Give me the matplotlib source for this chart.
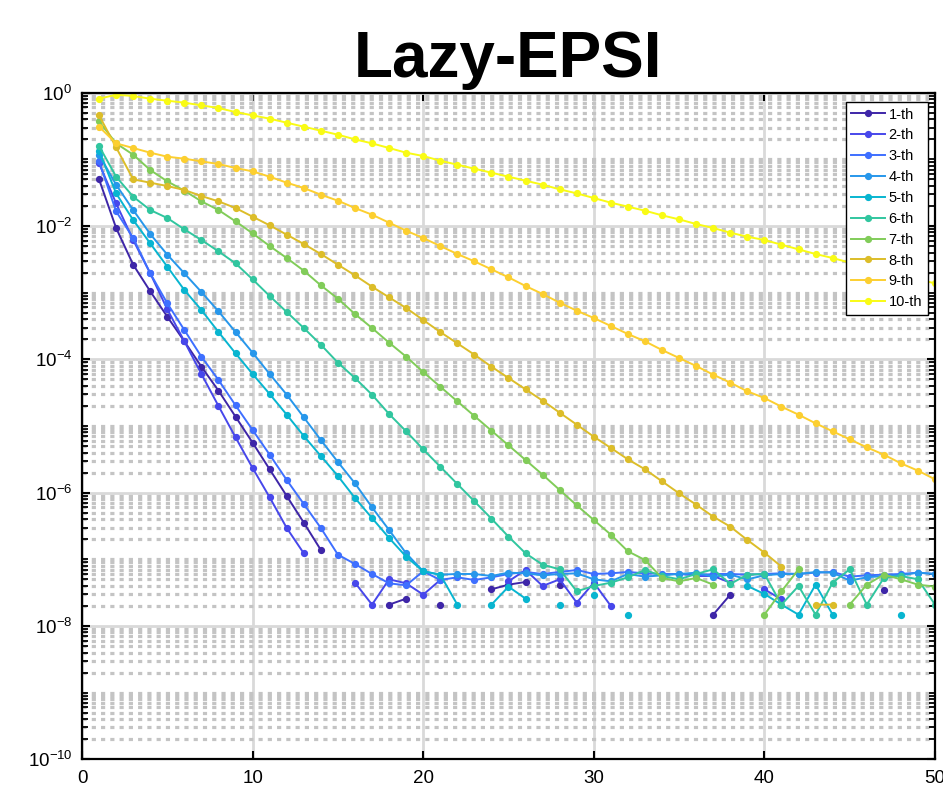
import numpy as np
import matplotlib
matplotlib.use("Agg")
import matplotlib.pyplot as plt
from matplotlib.ticker import LogLocator, FixedLocator, FuncFormatter, NullLocator, NullFormatter

plt.rcParams['font.family'] = ['Liberation Sans', 'DejaVu Sans']
plt.rcParams['mathtext.fontset'] = 'custom'
plt.rcParams['mathtext.rm'] = 'Liberation Sans'
plt.rcParams['mathtext.it'] = 'Liberation Sans:italic'
plt.rcParams['mathtext.bf'] = 'Liberation Sans:bold'

nan = np.nan

# iteration index
iters = np.arange(1, 51)

# log10 of the error for each eigenpair (NaN = not plotted)
log_err_1 = [-1.30, -2.03, -2.58, -2.98, -3.36, -3.73, -4.11, -4.47, -4.86, -5.25,
             -5.65, -6.05, -6.45, -6.86, nan, nan, nan, -7.68, -7.59, nan,
             -7.68, nan, nan, -7.45, -7.38, -7.34, nan, -7.38, nan, nan,
             nan, nan, nan, nan, nan, nan, -7.83, -7.53, nan, nan,
             nan, nan, nan, nan, nan, nan, -7.46, nan, nan, nan]
log_err_2 = [-1.06, -1.66, -2.21, -2.71, -3.25, -3.73, -4.22, -4.70, -5.17, -5.63,
             -6.07, -6.53, -6.91, nan, nan, -7.35, -7.68, -7.30, -7.36, -7.53,
             -7.31, nan, nan, nan, -7.33, -7.16, -7.40, -7.30, -7.65, -7.35,
             -7.70, nan, nan, nan, nan, -7.25, -7.25, -7.35, nan, -7.45,
             -7.60, nan, nan, nan, nan, nan, nan, nan, nan, nan]
log_err_3 = [-1.03, -1.78, -2.18, -2.71, -3.16, -3.56, -3.96, -4.31, -4.69, -5.06,
             -5.43, -5.81, -6.17, -6.53, -6.93, -7.07, -7.22, -7.36, -7.39, -7.18,
             -7.31, -7.27, -7.31, -7.27, -7.22, -7.19, -7.22, -7.19, -7.16, -7.22,
             -7.21, -7.19, -7.21, -7.22, -7.22, -7.24, -7.22, -7.22, -7.23, -7.22,
             -7.21, -7.22, -7.20, -7.19, -7.26, -7.24, -7.23, -7.22, -7.20, -7.22]
log_err_4 = [-0.93, -1.38, -1.76, -2.12, -2.43, -2.71, -2.99, -3.28, -3.59, -3.90,
             -4.22, -4.53, -4.87, -5.21, -5.54, -5.86, -6.22, -6.56, -6.91, -7.18,
             -7.23, -7.22, -7.22, -7.25, -7.20, -7.21, -7.24, -7.22, -7.21, -7.30,
             -7.33, -7.22, -7.26, -7.24, -7.22, -7.20, -7.26, -7.23, -7.30, -7.24,
             -7.22, -7.22, -7.19, -7.20, -7.32, -7.27, -7.25, -7.24, -7.20, -7.22]
log_err_5 = [-0.87, -1.51, -1.91, -2.26, -2.61, -2.96, -3.26, -3.59, -3.91, -4.22,
             -4.52, -4.83, -5.15, -5.45, -5.75, -6.08, -6.38, -6.68, -6.96, -7.18,
             -7.23, -7.68, nan, -7.68, -7.41, -7.59, nan, -7.68, nan, -7.53,
             nan, -7.84, nan, nan, nan, nan, nan, nan, -7.40, -7.52,
             -7.68, -7.83, -7.38, -7.83, nan, nan, nan, -7.83, nan, nan]
log_err_6 = [-0.80, -1.26, -1.56, -1.76, -1.88, -2.05, -2.21, -2.38, -2.56, -2.80,
             -3.05, -3.29, -3.53, -3.78, -4.05, -4.28, -4.53, -4.82, -5.08, -5.35,
             -5.61, -5.87, -6.13, -6.39, -6.66, -6.91, -7.08, -7.15, -7.48, -7.40,
             -7.35, -7.27, -7.16, -7.25, -7.30, -7.22, -7.15, -7.37, -7.23, -7.22,
             -7.68, -7.40, -7.83, -7.35, -7.15, -7.68, -7.28, -7.25, -7.30, -7.68]
log_err_7 = [-0.43, -0.76, -0.93, -1.16, -1.33, -1.47, -1.63, -1.76, -1.93, -2.11,
             -2.30, -2.48, -2.67, -2.89, -3.09, -3.32, -3.53, -3.75, -3.96, -4.19,
             -4.41, -4.63, -4.85, -5.07, -5.29, -5.51, -5.73, -5.96, -6.19, -6.41,
             -6.63, -6.88, -7.01, -7.28, -7.33, -7.28, -7.38, nan, nan, -7.83,
             -7.48, -7.15, nan, nan, -7.68, -7.38, -7.23, -7.30, -7.38, -7.41]
log_err_8 = [-0.34, -0.82, -1.30, -1.35, -1.40, -1.46, -1.55, -1.63, -1.73, -1.86,
             -1.99, -2.13, -2.27, -2.42, -2.58, -2.74, -2.91, -3.07, -3.23, -3.41,
             -3.59, -3.76, -3.93, -4.11, -4.28, -4.45, -4.62, -4.80, -4.98, -5.16,
             -5.33, -5.50, -5.65, -5.83, -6.01, -6.18, -6.36, -6.51, -6.71, -6.90,
             -7.11, nan, -7.68, -7.68, nan, nan, nan, nan, nan, nan]
log_err_9 = [-0.51, -0.76, -0.83, -0.90, -0.96, -0.99, -1.03, -1.07, -1.13, -1.18,
             -1.26, -1.35, -1.43, -1.53, -1.62, -1.73, -1.83, -1.95, -2.07, -2.18,
             -2.30, -2.42, -2.53, -2.65, -2.77, -2.90, -3.02, -3.15, -3.27, -3.38,
             -3.50, -3.62, -3.73, -3.86, -3.98, -4.10, -4.23, -4.35, -4.48, -4.58,
             -4.71, -4.83, -4.96, -5.08, -5.20, -5.32, -5.43, -5.56, -5.67, -5.80]
log_err_10 = [-0.09, -0.03, -0.05, -0.09, -0.12, -0.15, -0.19, -0.23, -0.29, -0.34,
              -0.39, -0.45, -0.51, -0.57, -0.63, -0.70, -0.76, -0.83, -0.90, -0.95,
              -1.02, -1.08, -1.14, -1.20, -1.26, -1.32, -1.38, -1.45, -1.51, -1.58,
              -1.65, -1.71, -1.77, -1.84, -1.90, -1.97, -2.03, -2.10, -2.16, -2.21,
              -2.28, -2.35, -2.42, -2.48, -2.55, -2.61, -2.68, -2.74, -2.80, -2.86]

series = [log_err_1, log_err_2, log_err_3, log_err_4, log_err_5,
          log_err_6, log_err_7, log_err_8, log_err_9, log_err_10]
labels = ['1-th', '2-th', '3-th', '4-th', '5-th', '6-th', '7-th', '8-th', '9-th', '10-th']

# parula(10)
colors = [(0.2422, 0.1504, 0.6603), (0.2803, 0.2782, 0.9221), (0.2440, 0.4358, 0.9988),
          (0.1540, 0.5902, 0.9218), (0.0297, 0.7082, 0.8163), (0.1938, 0.7758, 0.6251),
          (0.5044, 0.7993, 0.3480), (0.8634, 0.7406, 0.1596), (0.9892, 0.8131, 0.1885),
          (0.9769, 0.9839, 0.0805)]

W, H = 943, 793
fig = plt.figure(figsize=(W / 100, H / 100), dpi=100)
ax = fig.add_axes([82 / W, (H - 759.3) / H, 853 / W, 666.6 / H])

for vals, lab, c in zip(series, labels, colors):
    y = 10.0 ** np.asarray(vals, dtype=float)
    ax.plot(iters, y, '-', color=c, lw=1.4, marker='o', ms=4.2, mec=c, mfc=c, label=lab)

ax.set_yscale('log')
ax.set_xlim(0, 50)
ax.set_ylim(1e-10, 1)

ax.xaxis.set_major_locator(FixedLocator([0, 10, 20, 30, 40, 50]))
ax.xaxis.set_minor_locator(NullLocator())
ax.yaxis.set_major_locator(FixedLocator([1e-10, 1e-8, 1e-6, 1e-4, 1e-2, 1e0]))
ax.yaxis.set_minor_locator(LogLocator(base=10, subs=np.arange(1, 10), numticks=50))
ax.yaxis.set_major_formatter(FuncFormatter(
    lambda v, p: r'$\mathregular{10^{%d}}$' % int(round(np.log10(v)))))
ax.yaxis.set_minor_formatter(NullFormatter())

ax.set_axisbelow(True)
ax.grid(which='major', color='#d9d9d9', lw=2.0, ls='-')
ax.grid(which='minor', axis='y', color='#c4c4c4', lw=2.3, ls=(0, (1.3, 1.6)))

ax.tick_params(which='both', direction='in', top=True, right=True, color='k',
               labelsize=13.5)
ax.tick_params(which='major', length=6, width=1.5)
ax.tick_params(which='minor', length=4, width=1.3)
ax.tick_params(axis='x', pad=8)
ax.tick_params(axis='y', pad=7)
for s in ax.spines.values():
    s.set_color('k')
    s.set_linewidth(1.6)

ax.set_title('Lazy-EPSI', fontsize=46, fontweight='bold', pad=11)

leg = ax.legend(loc='upper right', bbox_to_anchor=(0.9918, 0.9865), borderaxespad=0,
                fontsize=10.5, handlelength=2.3, handletextpad=0.25, labelspacing=0.47,
                borderpad=0.4, fancybox=False, framealpha=1, edgecolor='k')
leg.get_frame().set_linewidth(1.0)

fig.savefig('out.png', dpi=100)
